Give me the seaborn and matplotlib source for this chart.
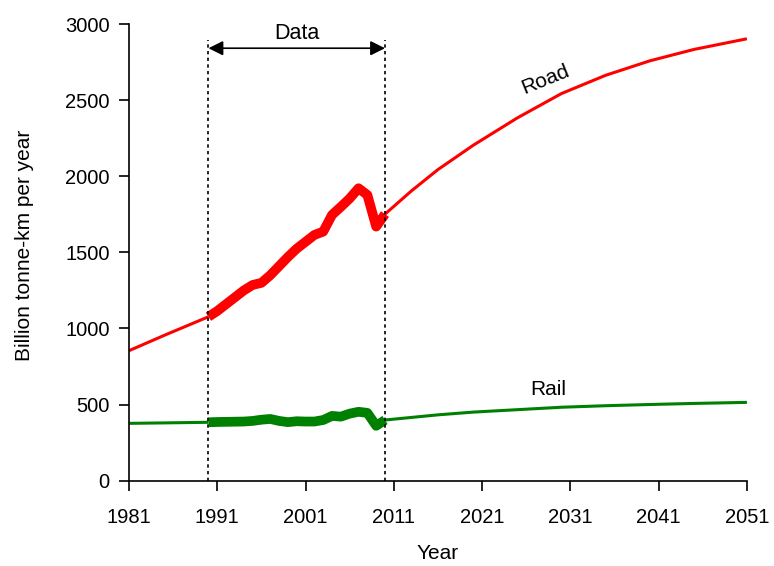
import pandas as pd
import matplotlib
matplotlib.use("Agg")
import matplotlib.pyplot as plt
import seaborn as sns

# thin lines before the data window
pre_years = [1981, 1985, 1990]
road_pre = [854, 955, 1077]
rail_pre = [376, 379, 383]

# observed data 1990-2010 (thick)
data_years = list(range(1990, 2011))
road_data = [1077, 1115, 1160, 1205, 1250, 1286, 1300, 1350, 1410, 1470, 1525,
             1570, 1615, 1637, 1747, 1800, 1855, 1922, 1878, 1670, 1752]
rail_data = [383, 385, 386, 387, 388, 392, 400, 405, 392, 384, 390,
             388, 388, 398, 425, 420, 440, 452, 445, 360, 398]

# projections 2010-2051 (thin)
proj_years = [2010, 2013, 2016, 2020, 2025, 2030, 2035, 2040, 2045, 2051]
road_proj = [1752, 1905, 2045, 2205, 2385, 2545, 2665, 2760, 2835, 2905]
rail_proj = [398, 415, 432, 450, 466, 482, 492, 500, 507, 514]

sns.set_style("ticks")
plt.rcParams['font.family'] = ['Liberation Sans', 'DejaVu Sans']
plt.rcParams['text.color'] = 'black'
plt.rcParams['axes.labelcolor'] = 'black'

pre = pd.DataFrame({'year': pre_years, 'Road': road_pre, 'Rail': rail_pre})
dat = pd.DataFrame({'year': data_years, 'Road': road_data, 'Rail': rail_data})
proj = pd.DataFrame({'year': proj_years, 'Road': road_proj, 'Rail': rail_proj})

fig, ax = plt.subplots(figsize=(7.74, 5.66), dpi=100)
fig.subplots_adjust(left=0.1667, right=0.965, bottom=0.151, top=0.957)

red = '#ff0000'
green = '#008000'
for df_, lw in [(pre, 2.2), (proj, 2.2), (dat, 7)]:
    sns.lineplot(data=df_, x='year', y='Road', color=red, linewidth=lw, ax=ax,
                 solid_capstyle='butt')
    sns.lineplot(data=df_, x='year', y='Rail', color=green, linewidth=lw, ax=ax,
                 solid_capstyle='butt')

# data window
for yr in [1990, 2010]:
    ax.plot([yr, yr], [0, 2900], color='black', linestyle=(0, (2, 2)), linewidth=1.2)
ax.annotate('', xy=(1990, 2843), xytext=(2010, 2843),
            arrowprops=dict(arrowstyle='<|-|>', color='black', lw=1.2,
                            mutation_scale=22, shrinkA=0, shrinkB=0))
ax.text(2000, 2870, 'Data', ha='center', va='bottom', fontsize=15.5)

ax.text(2028.2, 2640, 'Road', ha='center', va='center', rotation=22, fontsize=15)
ax.text(2028.5, 600, 'Rail', ha='center', va='center', fontsize=15)

ax.set_xlim(1981, 2051)
ax.set_ylim(0, 3000)
ax.set_xticks(range(1981, 2052, 10))
ax.set_yticks(range(0, 3001, 500))
ax.tick_params(labelsize=14.5, length=7, width=1.2, colors='black')
ax.tick_params(axis='x', pad=13)
ax.tick_params(axis='y', pad=7)
ax.set_xlabel('Year', fontsize=15, labelpad=12)
ax.set_ylabel('Billion tonne-km per year', fontsize=15, labelpad=22)
ax.yaxis.label.set_y(0.515)
sns.despine(ax=ax)
for s in ['left', 'bottom']:
    ax.spines[s].set_linewidth(1.2)
    ax.spines[s].set_color('black')

fig.savefig('out.png', dpi=100)
